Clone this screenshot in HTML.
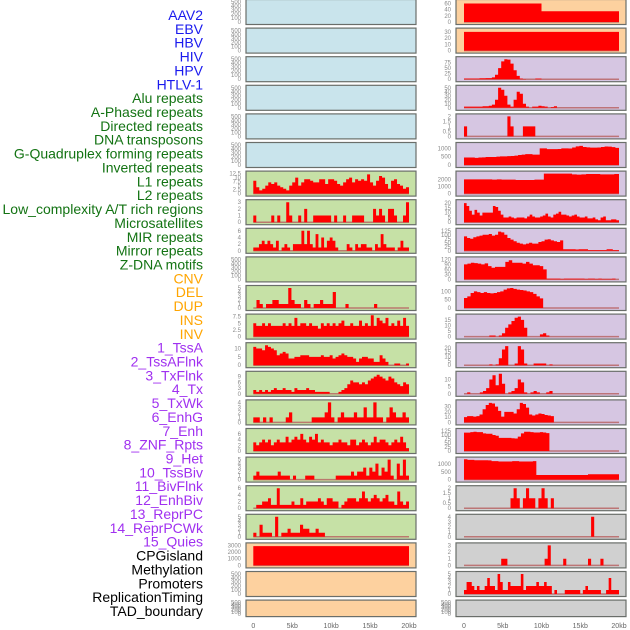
<!DOCTYPE html>
<html><head><meta charset="utf-8"><style>
html,body{margin:0;padding:0;background:#fff;width:630px;height:630px;overflow:hidden}
svg{display:block;font-family:"Liberation Sans",sans-serif}
</style></head><body>
<svg id="chart" width="630" height="630" xmlns="http://www.w3.org/2000/svg"></svg>
<script>
const labels=["AAV2","EBV","HBV","HIV","HPV","HTLV-1","Alu repeats","A-Phased repeats","Directed repeats","DNA transposons","G-Quadruplex forming repeats","Inverted repeats","L1 repeats","L2 repeats","Low_complexity A/T rich regions","Microsatellites","MIR repeats","Mirror repeats","Z-DNA motifs","CNV","DEL","DUP","INS","INV","1_TssA","2_TssAFlnk","3_TxFlnk","4_Tx","5_TxWk","6_EnhG","7_Enh","8_ZNF_Rpts","9_Het","10_TssBiv","11_BivFlnk","12_EnhBiv","13_ReprPC","14_ReprPCWk","15_Quies","CPGisland","Methylation","Promoters","ReplicationTiming","TAD_boundary"];
const labelGroups=[6,13,5,15,5];
const groupColors=["#1a1aee","#137313","#ffa500","#a030f0","#000000"];
const xTicks=[0,5,10,15,20];
const xTickLabels=["0","5kb","10kb","15kb","20kb"];
const midMax=[500,500,500,500,500,500,12.5,3,6,500,5,7.5,12,10.5,4,7,5,6,5,3000,500,500];
const midTicks=[[0,100,200,300,400,500],[0,100,200,300,400,500],[0,100,200,300,400,500],[0,100,200,300,400,500],[0,100,200,300,400,500],[0,100,200,300,400,500],[0,2.5,5,7.5,10,12.5],[0,1,2,3],[0,2,4,6],[0,100,200,300,400,500],[0,1,2,3,4,5],[0,2.5,5,7.5],[0,5,10],[0,3,6,9],[0,1,2,3,4],[0,2,4,6],[0,1,2,3,4,5],[0,2,4,6],[0,1,2,3,4,5],[0,1000,2000,3000],[0,100,200,300,400,500],[0,100,200,300,400,500]];
const midVals=[[],[],[],[],[],[],
[8,4,2,3,5,7,6,7,5,4,3,2,5,7,10,5,7,9,9,8,7,7,9,9,6,9,9,8,6,5,7,9,10,7,9,8,9,8,12,7,5,8,11,10,6,3,8,9,6,5,3,4],
[1,0,0,0,0,0,1,0,1,0,0,3,1,0,0,1,0,2,0,0,1,1,1,1,1,1,0,1,0,0,1,0,0,1,1,1,1,0,0,0,2,1,2,1,0,2,2,1,0,0,1,3],
[1,1,2,3,2,3,2,1,3,0,1,2,1,0,2,2,2,6,2,6,2,1,5,1,4,1,3,4,3,1,0,0,0,2,1,0,2,1,2,2,1,1,0,2,1,5,2,1,1,1,0,1,3,1,1],
[],
[0,2,1,0,1,1,2,2,1,1,1,5,2,1,1,0,2,1,0,1,1,2,1,1,1,4,0,0,0,1,0,0,0,0,0,0,0,0,1,0,0,0,0,0,0,0,0,0,0],
[5,4,4,5,4,5,4,4,4,4,5,4,5,4,7,4,5,5,4,5,4,4,3,5,4,5,4,5,4,5,6,4,4,5,4,4,6,4,5,4,8,4,7,6,5,7,4,5,4,6,4,7,4],
[11,10,10,9,12,11,10,9,6,7,8,7,4,4,5,5,6,6,6,5,5,5,5,6,5,5,6,4,5,6,7,6,5,5,4,2,4,5,5,4,4,2,2,6,4,2,0,0,1,1,0,0,1],
[2,1,2,1,2,1,2,3,2,2,3,2,2,1,3,2,2,2,3,2,2,1,1,1,1,1,0,0,0,1,2,3,5,7,6,6,5,6,5,7,8,9,10,9,8,7,9,8,6,5,4,6,5],
[1,1,0,1,0,1,0,0,0,0,1,2,0,0,0,0,0,0,1,1,1,1,2,4,1,0,1,2,1,1,1,2,1,1,3,1,1,4,1,1,0,1,3,2,1,1,2,1],
[3,2,3,4,3,4,2,3,4,3,3,5,3,4,5,4,6,4,3,5,4,6,3,4,3,3,2,3,3,4,3,3,2,4,4,2,3,4,3,2,3,5,3,4,4,3,2,3,4,3,5,3,1],
[1,2,1,1,1,1,1,1,2,1,1,1,0,1,0,0,0,1,1,1,0,0,0,0,0,0,0,1,1,1,1,1,2,1,2,2,3,1,3,2,4,1,3,2,5,1,0,4,1,5,1],
[0,1,1,2,2,3,1,1,6,1,1,1,1,2,1,1,3,1,2,2,2,2,3,2,1,3,3,2,2,0,1,2,3,3,3,2,3,5,3,2,3,4,3,2,3,4,2,2,1,5,2,1,2],
[1,0,3,1,1,1,0,5,0,1,1,2,1,1,1,3,2,2,1,1,2,1,1,0,0,0,0,0,0,0,0,0,0,0,0,0,0,0,0,0,0,0,0,0,0,0,0,0,0,0],
[2900,2900,2900,2900,2900,2900,2900,2900,2900,2900,2900,2900,2900,2900,2900,2900,2900,2900,2900,2900],
[],[]];
const rightMax=[65,32,90,50,2,1200,2800,21,125,120,120,18,23,14,38,125,1300,2,4,3,5,500];
const rightTicks=[[0,20,40,60],[0,10,20,30],[0,25,50,75],[0,10,20,30,40,50],[0,0.5,1,1.5,2],[0,500,1000],[0,1000,2000],[0,5,10,15,20],[0,25,50,75,100,125],[0,30,60,90,120],[0,50,100],[0,5,10,15],[0,5,10,15,20],[0,5,10],[0,10,20,30],[0,25,50,75,100,125],[0,500,1000],[0,0.5,1,1.5,2],[0,1,2,3,4],[0,1,2,3],[0,1,2,3,4,5],[0,100,200,300,400,500]];
const rightVals=[
[60,60,60,60,60,60,60,60,60,60,35,35,35,35,35,35,35,35,35,35],
[30,30,30,30,30,30,30,30,30,30,30,30,30,30,30,30,30,30,30,30],
[3,3,3,3,3,4,4,5,5,8,20,50,80,90,88,70,40,15,3,1,0,0,0,3,3,0,0,0,0,0,0,0,0,0,0,0,0,0,0,0,0,0,0,0,0,0,0,0,0,0],
[3,3,3,3,3,3,4,4,5,8,20,50,45,30,8,3,20,40,35,10,3,0,3,3,5,4,3,0,2,4,0,0,0,0,0,0,0,0,0,0,0,0,0,0,0,0,0,0,0,0],
[1,0,0,0,0,0,0,0,0,0,0,0,0,0,2,1,0,0,0,1,1,1,1,0,0,0,0,0,0,0,0,0,0,0,0,0,0,0,0,0,0,0,0,0,0,0,0,0,0,0],
[450,450,450,430,450,460,480,480,480,500,520,520,530,540,560,600,620,650,650,620,620,1000,1000,950,950,950,960,1000,1000,990,1050,1120,1150,1080,1060,1040,1040,1050,1080,1110,1100,1070,1030],
[2000,2000,2000,2000,2000,2000,1950,2000,1950,1950,1950,1900,1900,1900,1900,1950,1950,2800,2800,2800,2800,2800,2800,2700,2650,2700,2750,2750,2750,2700,2700,2700,2750],
[20,17,12,8,13,10,7,10,10,10,10,17,16,12,8,5,5,6,5,4,5,5,5,4,6,8,6,5,5,6,7,9,6,5,8,9,11,8,8,7,6,7,8,6,5,5,6,4,4,5,3,2,5,6,2,2,3,3,2],
[90,80,75,85,90,95,100,100,105,95,100,120,115,100,80,70,60,50,45,40,45,50,45,45,55,60,70,72,65,60,55,65,10,10,10,10,8,10,10,10,5,5,5,5,5,5,10,10,5,5],
[90,95,100,98,95,90,96,80,70,75,75,75,105,115,100,100,100,95,105,95,85,85,80,60,5,5,5,5,3,5,5,5,5,5,5,3,5,5,3,5,3,3,3,5,0],
[60,70,90,100,95,90,95,90,88,90,95,100,110,118,120,115,110,108,105,100,95,85,70,58,0,0,0,0,0,0,0,0,0,0,0,0,0,0,0,0,0,0,0,0,0,0,0],
[0,0,0,0,0,0,0,0,1,1,0,1,3,8,11,14,17,18,15,8,0,0,0,0,2,3,1,0,0,0,0,0,0,0,0,0,0,0,0,0,0,0,0,0,0,0,0,0,0],
[0,0,0,0,0,0,0,0,1,0,1,8,18,22,0,0,2,22,18,2,0,0,2,2,2,2,0,1,0,0,0,0,0,0,0,0,0,0,0,0,0,0,0,0,0,0,0,0,0],
[0,1,0,0,0,1,2,4,10,13,6,14,7,0,1,2,4,10,8,1,0,1,2,1,0,0,1,2,0,0,0,0,0,0,0,0,0,0,0,0,0,0,0,0,0,0,0,0,0],
[10,12,12,11,12,15,25,33,37,36,30,22,11,20,20,20,17,25,37,35,28,15,13,15,17,16,14,13,12,0,0,0,0,0,0,0,0,0,0,0,0,0,0,0,0,0,0,0,0,0],
[115,115,118,120,118,118,110,108,108,100,95,82,82,82,82,80,78,90,110,120,120,118,116,116,118,116,112,0,0,0,0,0,0,0,0,0,0,0,0,0,0,0,0,0,0,0,0,0,0],
[1320,1280,1280,1260,1260,1260,1260,1250,1200,1200,1180,1180,1180,1180,1200,1200,1180,1180,1180,1180,1200,300,300,300,300,300,300,300,300,300,300,300,300,300,300,300,350,350,350,350,350,350,350,350,350],
[0,0,0,0,0,0,0,0,0,0,0,0,0,0,0,1,2,1,0,1,2,1,1,0,1,2,1,0,1,0,0,0,0,0,0,0,0,0,0,0,0,0,0,0,0,0,0,0,0,0],
[0,0,0,0,0,0,0,0,0,0,0,0,0,0,0,0,0,0,0,0,0,0,0,0,0,0,0,0,0,0,0,0,0,0,0,0,0,0,0,0,0,4,0,0,0,0,0,0,0,0],
[0,0,0,0,0,0,0,0,0,0,0,0,1,1,0,0,0,0,0,0,0,0,0,0,0,0,1,3,0,0,0,0,1,0,0,0,0,0,0,0,1,0,0,0,1,0,0,0,0,0],
[1,3,3,2,1,2,1,1,2,4,2,2,1,5,3,1,1,3,2,2,2,2,5,1,2,2,2,2,3,2,2,3,2,2,0,1,0,0,0,1,1,1,1,1,1,0,1,2,1,1,1,1,1,0,0,1,4,1,1,1],
[]];
const midBg=["#c9e4ec","#c9e4ec","#c9e4ec","#c9e4ec","#c9e4ec","#c9e4ec","#c6e1a6","#c6e1a6","#c6e1a6","#c6e1a6","#c6e1a6","#c6e1a6","#c6e1a6","#c6e1a6","#c6e1a6","#c6e1a6","#c6e1a6","#c6e1a6","#c6e1a6","#fdd19f","#fdd19f","#fdd19f"];
const rightBg=["#fdd19f","#fdd19f","#d6c6e2","#d6c6e2","#d6c6e2","#d6c6e2","#d6c6e2","#d6c6e2","#d6c6e2","#d6c6e2","#d6c6e2","#d6c6e2","#d6c6e2","#d6c6e2","#d6c6e2","#d6c6e2","#d6c6e2","#d0d0d0","#d0d0d0","#d0d0d0","#d0d0d0","#d0d0d0"];

const svg=document.getElementById('chart');
const NS="http://www.w3.org/2000/svg";
function mk(tag,attrs,parent){const e=document.createElementNS(NS,tag);for(const k in attrs)e.setAttribute(k,attrs[k]);(parent||svg).appendChild(e);return e;}

let li=0;
labelGroups.forEach((n,g)=>{for(let j=0;j<n;j++){
  const t=mk('text',{x:203,y:15+li*13.86+5,'text-anchor':'end','font-size':14,fill:groupColors[g]});
  t.textContent=labels[li];
  
  
  li++;}});

const cols=[{x0:246,x1:416,z0:253.3,z20:409,tickX:241,max:midMax,ticks:midTicks,vals:midVals,bg:midBg,name:'left'},
            {x0:456,x1:626,z0:464,z20:619,tickX:451,max:rightMax,ticks:rightTicks,vals:rightVals,bg:rightBg,name:'right'}];
function fmt(v){return (Number.isInteger(v)?String(v):v.toFixed(1));}
cols.forEach(c=>{
  const xs=kb=>c.z0+(c.z20-c.z0)*kb/20;
  for(let i=0;i<22;i++){
    const top=i*28.6-0.5, h=(i==21?16.5:25);
    const g=mk('g',{});
    
    
    mk('rect',{x:c.x0,y:top,width:c.x1-c.x0,height:h,fill:c.bg[i],stroke:'#6a6e6a','stroke-width':1.2},g);
    const y0=top+h-2.5, y1=top+2.5;
    const ys=v=>y0-(y0-y1)*v/c.max[i];
    c.ticks[i].forEach(tv=>{
      const t=mk('text',{x:c.tickX,y:ys(tv)+2,'text-anchor':'end','font-size':6,fill:'#888'},g);
      t.textContent=fmt(tv);
      
      
    });
    const v=c.vals[i], n=v.length;
    if(n){
      mk('line',{x1:xs(0),x2:xs(20),y1:y0,y2:y0,stroke:'#b86060','stroke-width':1.5,opacity:0.8},g);
      let d='M'+xs(0)+','+y0;
      v.forEach((val,k)=>{const a=xs(20*k/n),b=xs(20*(k+1)/n),y=ys(val);d+=' L'+a+','+y+' L'+b+','+y;});
      d+=' L'+xs(20)+','+y0+'Z';
      const p=mk('path',{d:d,fill:'#ff0000'},g);
      
      
    }
  }
  xTicks.forEach((kb,k)=>{
    const t=mk('text',{x:xs(kb),y:628,'text-anchor':'middle','font-size':7,fill:'#666'});
    t.textContent=xTickLabels[k];
    
    
  });
});
</script>
</body></html>
